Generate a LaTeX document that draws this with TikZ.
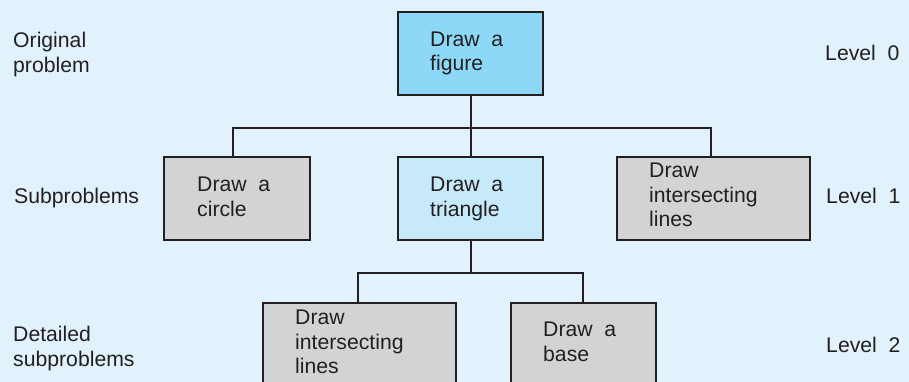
\documentclass[tikz,border=0pt]{standalone}
\usepackage{fontspec}
\setmainfont{Liberation Sans}
\definecolor{bgblue}{HTML}{E1F2FC}
\definecolor{topblue}{HTML}{8ED8F7}
\definecolor{midblue}{HTML}{C6EAF9}
\definecolor{boxgray}{HTML}{D2D3D5}
\definecolor{ink}{HTML}{231F20}
\tikzset{
  box/.style={draw=ink, line width=1.8pt, rectangle, inner sep=0pt, anchor=north west},
  conn/.style={draw=ink, line width=1.7pt},
  txt/.style={inner sep=0pt, anchor=base west, align=left, text=ink,
    font=\fontsize{21.2}{24.3}\selectfont},
}
\begin{document}
\begin{tikzpicture}[x=1pt,y=1pt]
\useasboundingbox (0,0) rectangle (909,382);
\fill[bgblue] (0,0) rectangle (909,382);
\clip (0,0) rectangle (909,382);
% boxes
\node[box, fill=topblue, minimum width=145pt, minimum height=83pt] (fig) at (397,371) {};
\node[box, fill=boxgray, minimum width=146pt, minimum height=83pt] (circ) at (163,226) {};
\node[box, fill=midblue, minimum width=145pt, minimum height=83pt] (tri) at (397,226) {};
\node[box, fill=boxgray, minimum width=193pt, minimum height=83pt] (lin1) at (616,226) {};
\node[box, fill=boxgray, minimum width=193pt, minimum height=100pt] (lin2) at (262,80) {};
\node[box, fill=boxgray, minimum width=145pt, minimum height=100pt] (base) at (510,80) {};
% box texts (anchor = baseline of last line)
\node[txt] (figT) at (430,311) {Draw\ \ a\\figure};
\node[txt] (circT) at (197,165.7) {Draw\ \ a\\circle};
\node[txt] (triT) at (430,165.7) {Draw\ \ a\\triangle};
\node[txt] (lin1T) at (649,155.4) {Draw\\intersecting\\lines};
\node[txt] (lin2T) at (295,8.4) {Draw\\intersecting\\lines};
\node[txt] (baseT) at (543,20.7) {Draw\ \ a\\base};
% side labels
\node[txt] (orig) at (13,309.7) {Original\\problem};
\node[txt] (sub) at (14,178) {Subproblems};
\node[txt] (det) at (13,15.7) {Detailed\\subproblems};
\node[txt] (lv0) at (825,321) {Level\ \ 0};
\node[txt] (lv1) at (826,178) {Level\ \ 1};
\node[txt] (lv2) at (826,29) {Level\ \ 2};
% connectors
\draw[conn] ([xshift=0.5pt]fig.south) -- ++(0,-32) coordinate (j1);
\draw[conn] ([xshift=-4pt]circ.north) |- (j1) -| ([xshift=-2.5pt]lin1.north);
\draw[conn] (j1) -- ([xshift=0.5pt]tri.north);
\draw[conn] ([xshift=0.5pt]tri.south) -- ++(0,-32) coordinate (j2);
\draw[conn] ([xshift=-1.5pt]lin2.north) |- (j2) -| ([xshift=-0.5pt]base.north);
\end{tikzpicture}
\end{document}
